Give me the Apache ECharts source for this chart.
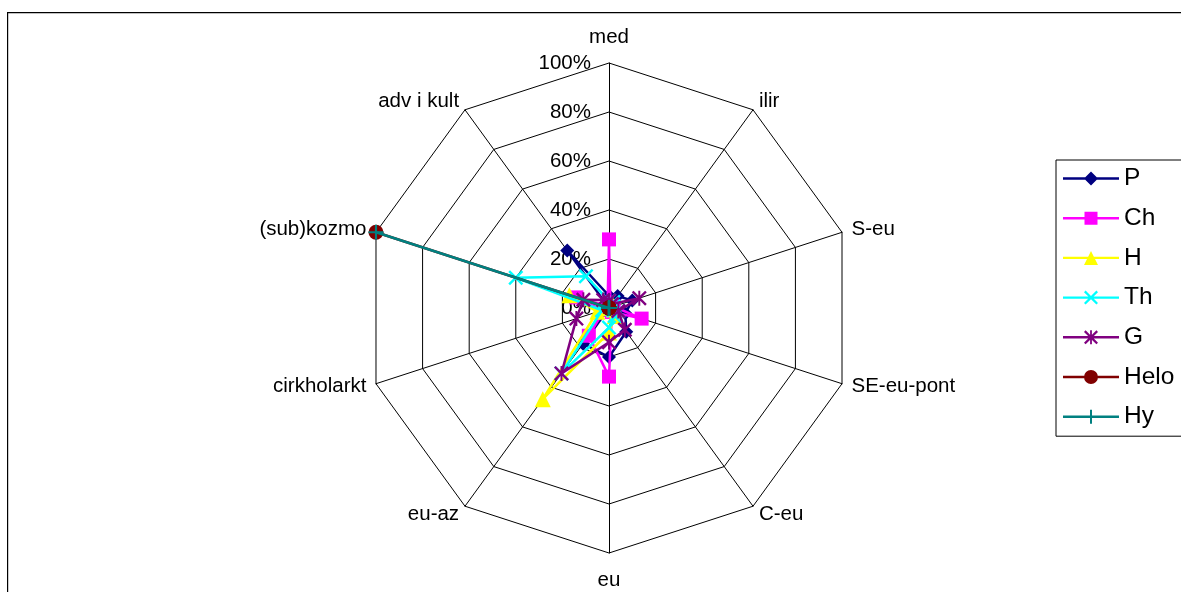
<!DOCTYPE html>
<html>
<head>
<meta charset="utf-8">
<script src="https://cdn.jsdelivr.net/npm/echarts@6/dist/echarts.min.js"></script>
<style>
html,body{margin:0;padding:0;background:#fff;}
#main{width:1181px;height:592px;}
</style>
</head>
<body>
<div id="main"></div>
<script>
// Categories in clockwise order, starting at the top
const categories = ['med','ilir','S-eu','SE-eu-pont','C-eu','eu','eu-az','cirkholarkt','(sub)kozmo','adv i kult'];
const seriesNames = ['P','Ch','H','Th','G','Helo','Hy'];
const tickValues = [0, 20, 40, 60, 80, 100];
const tickSuffix = '%';

const P    = [5, 6, 10, 7, 12, 20, 18, 0, 0, 29];
const Ch   = [28, 1, 2, 14, 2, 28, 14, 2, 14, 1];
const H    = [2, 2, 2, 2, 4, 10, 46, 5, 17, 0];
const Th   = [3, 3, 2, 4, 4, 8, 33, 3, 40, 16];
const G    = [3, 2, 13, 4, 11, 14, 33, 14, 11, 4];
const Helo = [0, 0, 0, 0, 0, 0, 0, 0, 100, 0];
const Hy   = [0, 0, 0, 0, 0, 0, 0, 0, 100, 0];

const seriesValues = [P, Ch, H, Th, G, Helo, Hy];
const colors = ['#000080','#FF00FF','#FFFF00','#00FFFF','#800080','#800000','#008080'];

// ECharts radar runs counter-clockwise; reorder so the picture runs clockwise
const order = [0].concat(categories.map((_, i) => i).slice(1).reverse());

const X_PATH = 'M0,1.6 L1.6,0 L7,5.4 L12.4,0 L14,1.6 L8.6,7 L14,12.4 L12.4,14 L7,8.6 L1.6,14 L0,12.4 L5.4,7 Z';
const AST_PATH = X_PATH + ' M6.1,0 L7.9,0 L7.9,14 L6.1,14 Z';
const PLUS_PATH = 'M6,0 L8,0 L8,6 L14,6 L14,8 L8,8 L8,14 L6,14 L6,8 L0,8 L0,6 L6,6 Z';

const symbols = ['diamond', 'rect', 'triangle', 'path://' + X_PATH, 'path://' + AST_PATH, 'circle', 'path://' + PLUS_PATH];
const symbolSizes = [14, 14, [16, 16], 15, 15, 15, 15];

// legend icons: line plus marker
const LINE = 'M0,5.8 L56,5.8 L56,8.2 L0,8.2 Z ';
function shift(path, dx){
  return path.replace(/(-?\d+(?:\.\d+)?),(-?\d+(?:\.\d+)?)/g, (m, a, b) => (parseFloat(a) + dx) + ',' + b);
}
const legendIcons = [
  'path://' + LINE + 'M28,0 L35,7 L28,14 L21,7 Z',
  'path://' + LINE + 'M21.5,0.5 L34.5,0.5 L34.5,13.5 L21.5,13.5 Z',
  'path://' + LINE + 'M28,0 L35,14 L21,14 Z',
  'path://' + LINE + shift(X_PATH, 21),
  'path://' + LINE + shift(AST_PATH, 21),
  'path://' + LINE + 'M21,7 A7,7 0 1,1 35,7 A7,7 0 1,1 21,7 Z',
  'path://' + LINE + shift(PLUS_PATH, 21)
];

const FONT = "'Liberation Sans', Arial, sans-serif";

const indicators = order.map((ci, k) => {
  const ind = { name: categories[ci], min: tickValues[0], max: tickValues[tickValues.length - 1] };
  if (k === 0) {
    ind.axisLabel = { show: true };
  }
  return ind;
});

const chart = echarts.init(document.getElementById('main'), null, { renderer: 'canvas' });
chart.setOption({
  backgroundColor: '#fff',
  animation: false,
  graphic: [{
    type: 'rect', left: 7, top: 12, z: -10,
    shape: { width: 1200, height: 620 },
    style: { fill: '#fff', stroke: '#000', lineWidth: 1.2 }
  }],
  legend: {
    orient: 'vertical',
    left: 1056, top: 160,
    padding: [6, 24, 7, 7],
    itemWidth: 56, itemHeight: 14,
    itemGap: 14.7,
    borderColor: '#000', borderWidth: 1,
    backgroundColor: '#fff',
    selectedMode: false,
    itemStyle: { borderWidth: 0 },
    textStyle: { fontSize: 24.5, fontFamily: FONT, color: '#000', lineHeight: 24 },
    data: seriesNames.map((n, i) => ({ name: n, icon: legendIcons[i], itemStyle: { color: colors[i], borderWidth: 0 } }))
  },
  radar: {
    center: [609, 308],
    radius: 245,
    startAngle: 90,
    shape: 'polygon',
    splitNumber: tickValues.length - 1,
    nameGap: 10,
    axisName: { color: '#000', fontSize: 20.5, fontFamily: FONT, padding: [7, 0, 5, 0] },
    axisLine: { lineStyle: { color: '#000', width: 1 } },
    splitLine: { lineStyle: { color: '#000', width: 1 } },
    splitArea: { show: false },
    axisTick: { show: false },
    axisLabel: {
      show: false, color: '#000', fontSize: 20.5, fontFamily: FONT, margin: 18,
      formatter: v => v + tickSuffix
    },
    indicator: indicators
  },
  series: seriesNames.map((n, i) => ({
    type: 'radar',
    name: n,
    symbol: symbols[i],
    symbolSize: symbolSizes[i],
    itemStyle: { color: colors[i] },
    lineStyle: { color: colors[i], width: 2.5 },
    z: 2 + i,
    data: [{ name: n, value: order.map(ci => seriesValues[i][ci]) }]
  }))
});
</script>
</body>
</html>
